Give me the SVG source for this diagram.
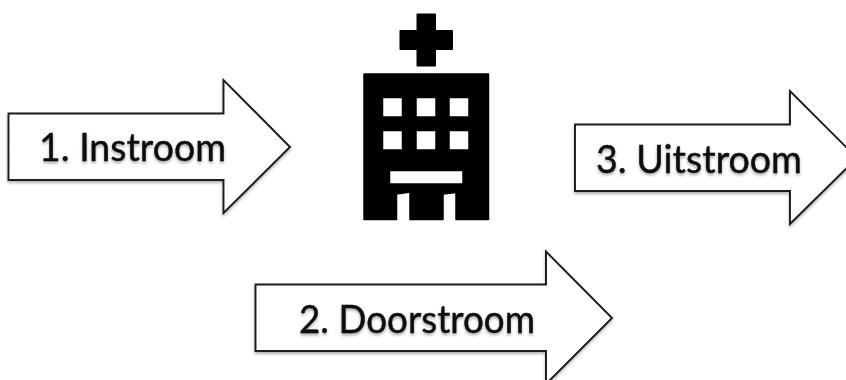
<svg xmlns="http://www.w3.org/2000/svg" width="846" height="380" viewBox="0 0 846 380">
  <defs>
    <filter id="shape-shadow" x="-5%" y="-5%" width="110%" height="112%">
      <feDropShadow dx="0" dy="2" stdDeviation="1.5" flood-color="#000" flood-opacity="0.3"/>
    </filter>
    <filter id="text-shadow" x="-5%" y="-15%" width="110%" height="135%">
      <feGaussianBlur stdDeviation="0.4" result="b"/>
      <feDropShadow in="b" dx="0" dy="2" stdDeviation="1.5" flood-color="#000" flood-opacity="0.35"/>
    </filter>
  </defs>
  <style>
    .arrow { fill: #fff; stroke: #1a1a1a; stroke-width: 1.9; stroke-linejoin: miter; filter: url(#shape-shadow); }
    .label { font-family: "Lato", "Open Sans", sans-serif; font-size: 38px; fill: #0a0a0a; stroke: #0a0a0a; stroke-width: 0.35; filter: url(#text-shadow); }
    .icon { fill: #000; stroke: #000; stroke-width: 2; stroke-linejoin: round; }
  </style>
  <rect width="846" height="380" fill="#fff"/>
  <g id="connectors"></g>
  <g id="hospital">
    <path fill="#000" stroke="#000" stroke-width="1.5" stroke-linejoin="round" fill-rule="evenodd" d="M364 74H488.500V219.500H456V192.500L443 194V219.500H410V192L396.500 194V219.500H364ZM382.500 97.500V117H402.500V97.500ZM416 97.500V117H436V97.500ZM449 97.500V117H469V97.500ZM382.500 130.500V150H402.500V130.500ZM416 130.500V150H436V130.500ZM449 130.500V150H469V130.500ZM389.500 170.500V184H463V170.500Z"/>
    <path class="icon" d="M417.500 14.500H435V31H452V49H435V65.500H417.500V49H400.500V31H417.500Z"/>
  </g>
  <g id="instroom">
    <path class="arrow" d="M8.500 113.500H223.500V80L290 147L223.500 213V180H8.500Z"/>
    <text class="label" x="39" y="161" textLength="187" lengthAdjust="spacingAndGlyphs">1. Instroom</text>
  </g>
  <g id="doorstroom">
    <path class="arrow" d="M255.500 284.500H546V251.500L612 318L546 384V351H255.500Z"/>
    <text class="label" x="299" y="333" textLength="236" lengthAdjust="spacingAndGlyphs">2. Doorstroom</text>
  </g>
  <g id="uitstroom">
    <path class="arrow" d="M575 124.500H790V91L857 158L790 224V191H575Z"/>
    <text class="label" x="596" y="173" textLength="206" lengthAdjust="spacingAndGlyphs">3. Uitstroom</text>
  </g>
</svg>
